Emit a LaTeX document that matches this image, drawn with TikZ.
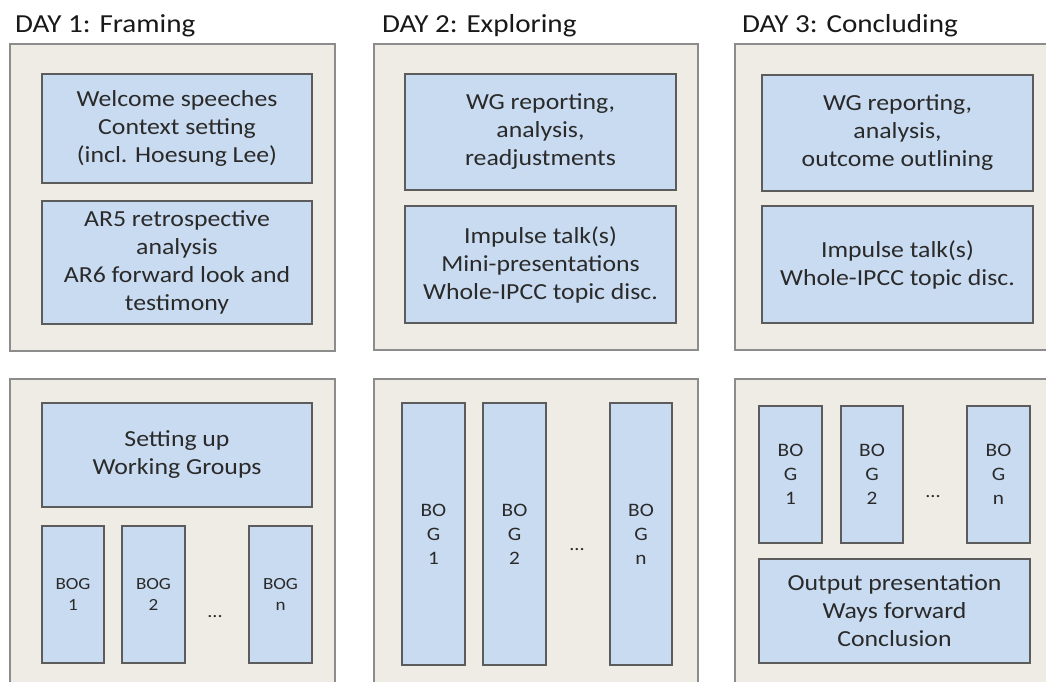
\documentclass[tikz,border=0pt]{standalone}
\usepackage{fontspec}
\setmainfont[FakeStretch=1.12]{Carlito}

\definecolor{dayfill}{HTML}{EEECE4}
\definecolor{dayline}{HTML}{8C8C8C}
\definecolor{itemfill}{HTML}{C9DBF1}
\definecolor{itemline}{HTML}{5C5C5C}
\definecolor{textgrey}{HTML}{2A2A2A}

\tikzset{
  daybox/.style={draw=dayline, fill=dayfill, line width=1.3pt, inner sep=0pt, outer sep=0pt},
  itembox/.style={draw=itemline, fill=itemfill, line width=1.2pt, inner sep=0pt, outer sep=0pt,
    align=center, text=textgrey, font=\fontsize{23}{28}\selectfont},
  bogbox/.style={itembox, font=\fontsize{19}{24}\selectfont, minimum width=63, minimum height=137},
  daytitle/.style={anchor=base west, inner sep=0pt, text=black!90, font=\fontsize{26}{30}\selectfont},
  dots/.style={anchor=base, inner sep=0pt, text=textgrey, font=\fontsize{18}{20}\selectfont}
}

\begin{document}
\begin{tikzpicture}[x=1pt, y=-1pt]
  \fill[white] (0,0) rectangle (1046,681);
  \path[use as bounding box] (0,0) rectangle (1046,681);
  \clip (0,0) rectangle (1046,681);

  % Day titles
  \node[daytitle] (titleone) at (15,32) {DAY 1: Framing};
  \node[daytitle] (titletwo) at (382,32) {DAY 2: Exploring};
  \node[daytitle] (titlethree) at (742,32) {DAY 3: Concluding};

  % Day frames
  \node[daybox, minimum width=325, minimum height=307] (onetop) at (172.5,197.5) {};
  \node[daybox, minimum width=324, minimum height=306] (twotop) at (536,197) {};
  \node[daybox, minimum width=325, minimum height=306] (threetop) at (897.5,197) {};
  \node[daybox, minimum width=325, minimum height=341] (onebot) at (172.5,549.5) {};
  \node[daybox, minimum width=324, minimum height=341] (twobot) at (536,549.5) {};
  \node[daybox, minimum width=325, minimum height=341] (threebot) at (897.5,549.5) {};

  % Day 1
  \node[itembox, minimum width=270, minimum height=109] (welcome) at (177,128.5)
    {Welcome speeches\\Context setting\\(incl. Hoesung Lee)};
  \node[itembox, minimum width=270, minimum height=123] (review) at (177,262.5)
    {AR5 retrospective\\analysis\\AR6 forward look and\\testimony};
  \node[itembox, minimum width=270, minimum height=104] (setup) at (177,455)
    {Setting up\\Working Groups};
  \node[bogbox, font=\fontsize{17}{21}\selectfont, minimum width=62] (onebogA) at (73,594.5) {BOG\\1};
  \node[bogbox, font=\fontsize{17}{21}\selectfont] (onebogB) at (153.5,594.5) {BOG\\2};
  \node[bogbox, font=\fontsize{17}{21}\selectfont] (onebogN) at (280.5,594.5) {BOG\\n};
  \node[dots] (onedots) at (215,617) {...};

  % Day 2
  \node[itembox, minimum width=271, minimum height=116] (reporttwo) at (540.5,132)
    {WG reporting,\\analysis,\\readjustments};
  \node[itembox, minimum width=271, minimum height=117] (impulsetwo) at (540.5,264.5)
    {Impulse talk(s)\\Mini-presentations\\Whole-IPCC topic disc.};
  \node[bogbox, minimum height=262] (twobogA) at (433.5,534) {BO\\G\\1};
  \node[bogbox, minimum height=262] (twobogB) at (514.5,534) {BO\\G\\2};
  \node[bogbox, minimum height=262, minimum width=62] (twobogN) at (641,534) {BO\\G\\n};
  \node[dots] (twodots) at (577,550) {...};

  % Day 3
  \node[itembox, minimum width=271, minimum height=116] (reportthree) at (897.5,133)
    {WG reporting,\\analysis,\\outcome outlining};
  \node[itembox, minimum width=271, minimum height=117] (impulsethree) at (897.5,264.5)
    {Impulse talk(s)\\Whole-IPCC topic disc.};
  \node[bogbox] (threebogA) at (790.5,474.5) {BO\\G\\1};
  \node[bogbox, minimum width=62] (threebogB) at (872,474.5) {BO\\G\\2};
  \node[bogbox] (threebogN) at (998.5,474.5) {BO\\G\\n};
  \node[dots] (threedots) at (933,497) {...};
  \node[itembox, minimum width=271, minimum height=104] (output) at (894.5,611)
    {Output presentation\\Ways forward\\Conclusion};
\end{tikzpicture}
\end{document}
